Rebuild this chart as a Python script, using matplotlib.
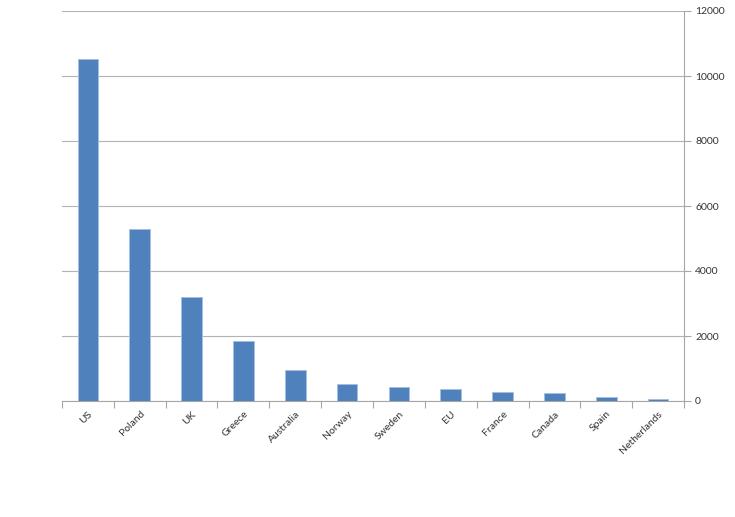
import numpy as np
import matplotlib.pyplot as plt
from matplotlib.ticker import FixedLocator

countries = ["US", "Poland", "UK", "Greece", "Australia", "Norway", "Sweden",
             "EU", "France", "Canada", "Spain", "Netherlands"]
values = [10530, 5280, 3210, 1855, 965, 535, 420, 360, 277, 246, 135, 62]
y_ticks = [0, 2000, 4000, 6000, 8000, 10000, 12000]

plt.rcParams["font.family"] = ["Lato", "DejaVu Sans"]

fig = plt.figure(figsize=(7.35, 5.17), dpi=100)
ax = fig.add_axes([62 / 735, 116 / 517, 622 / 735, 390 / 517])

x = np.arange(len(countries))
ax.bar(x, values, width=0.4, color="#4F81BD", edgecolor="#A7C0E0",
       linewidth=0.7, zorder=3)

ax.set_xlim(-0.5, len(countries) - 0.5)
ax.set_ylim(0, 12000)

# y axis on the right, grey gridlines
ax.yaxis.tick_right()
ax.set_yticks(y_ticks)
ax.set_yticklabels([str(v) for v in y_ticks], fontsize=7.5, color="#333333")
ax.tick_params(axis="y", direction="out", length=5, width=0.8, color="#A6A6A6", pad=3)
ax.grid(axis="y", color="#B3B3B3", linewidth=0.8, zorder=0)

# category labels centred, tick marks at boundaries
ax.set_xticks(x)
ax.set_xticklabels(countries, rotation=45, ha="right", va="top",
                   rotation_mode="anchor", fontsize=7.5, color="#333333")
ax.tick_params(axis="x", which="major", length=0, pad=6)
ax.xaxis.set_minor_locator(FixedLocator(np.arange(-0.5, len(countries), 1.0)))
ax.tick_params(axis="x", which="minor", direction="out", length=5, width=0.8, color="#A6A6A6")

for side in ["top", "left"]:
    ax.spines[side].set_visible(False)
for side in ["bottom", "right"]:
    ax.spines[side].set_color("#A6A6A6")
    ax.spines[side].set_linewidth(0.8)

plt.savefig("out.png", dpi=100)
